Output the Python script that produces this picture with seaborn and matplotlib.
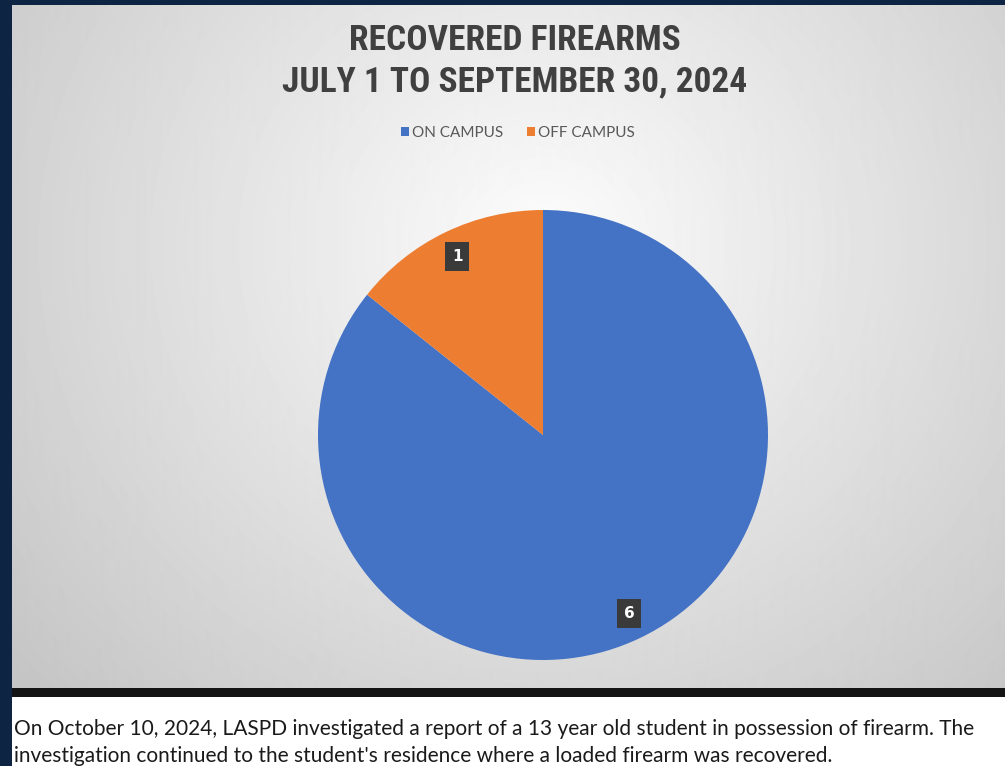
import numpy as np
import matplotlib.pyplot as plt
from matplotlib import font_manager
import seaborn as sns

sns.set_theme(style="white")

# narrow font for the title (original uses Calibri bold)
names = {f.name for f in font_manager.fontManager.ttflist}
narrow = "Roboto Condensed" if "Roboto Condensed" in names else "DejaVu Sans"
body = "Lato" if "Lato" in names else "DejaVu Sans"
plt.rcParams['font.family'] = [body, 'DejaVu Sans']

# data
categories = ["ON CAMPUS", "OFF CAMPUS"]
counts = [6, 1]
colors = ["#4472C4", "#ED7D31"]
title_lines = ["RECOVERED FIREARMS", "JULY 1 TO SEPTEMBER 30, 2024"]
note = ("On October 10, 2024, LASPD investigated a report of a 13 year old student in possession of firearm. The\n"
        "investigation continued to the student's residence where a loaded firearm was recovered.")

W, H = 1005, 766
fig = plt.figure(figsize=(W / 100, H / 100), dpi=100, facecolor="#0d2442")

# dark separator strip under the chart
sep = fig.add_axes([12 / W, 69 / H, 1 - 12 / W, 10 / H])
sep.set_axis_off()
sep.add_patch(plt.Rectangle((0, 0), 1, 1, color="#141414", transform=sep.transAxes))

# chart panel with radial gray gradient
bg = fig.add_axes([12 / W, 78 / H, 1 - 12 / W, 683 / H])
yy, xx = np.mgrid[0:683, 0:993]
d = np.sqrt(((xx - 531) / 640) ** 2 + ((yy - 240) / 600) ** 2)
shade = np.clip(0.99 - 0.2 * d, 0.77, 1)
bg.imshow(shade, cmap="gray", vmin=0, vmax=1, aspect="auto", interpolation="bilinear")
bg.set_axis_off()

# bottom note panel
low = fig.add_axes([12 / W, 0, 1 - 12 / W, 69 / H])
low.set_axis_off()
low.add_patch(plt.Rectangle((0, 0), 1, 1, color="white", transform=low.transAxes))
low.text(0.002, 0.34, note, fontsize=15, color="#1a1a1a", va="center", ha="left",
         linespacing=1.45, transform=low.transAxes)

# titles
for i, line in enumerate(title_lines):
    fig.text(515 / W, 1 - (40 + 42 * i) / H, line, ha="center", va="center",
             fontsize=25.5, fontweight="bold", family=narrow, color="#404040")

# pie
ax = fig.add_axes([318 / W, 106 / H, 450 / W, 450 / H])
wedges, texts, autotexts = ax.pie(
    counts, colors=colors, startangle=90, counterclock=False,
    autopct=lambda p: f"{int(round(p * sum(counts) / 100))}", pctdistance=0.88,
    wedgeprops=dict(linewidth=0))
for t in autotexts:
    t.set_color("white")
    t.set_fontweight("bold")
    t.set_fontsize(11)
    t.set_fontfamily("DejaVu Sans")
    t.set_bbox(dict(boxstyle="square,pad=0.45", facecolor="#3a3a3a", edgecolor="none"))
ax.set_xlim(-1, 1)
ax.set_ylim(-1, 1)
ax.set_aspect("equal")
ax.set_axis_off()

leg = fig.legend(wedges, categories, loc="center", bbox_to_anchor=(518 / W, 1 - 133 / H),
                 ncol=2, frameon=False, fontsize=11, handlelength=0.5, handleheight=0.5,
                 handletextpad=0.2, columnspacing=1.6)
for t in leg.get_texts():
    t.set_color("#595959")

fig.savefig("out.png", dpi=100, facecolor=fig.get_facecolor())
